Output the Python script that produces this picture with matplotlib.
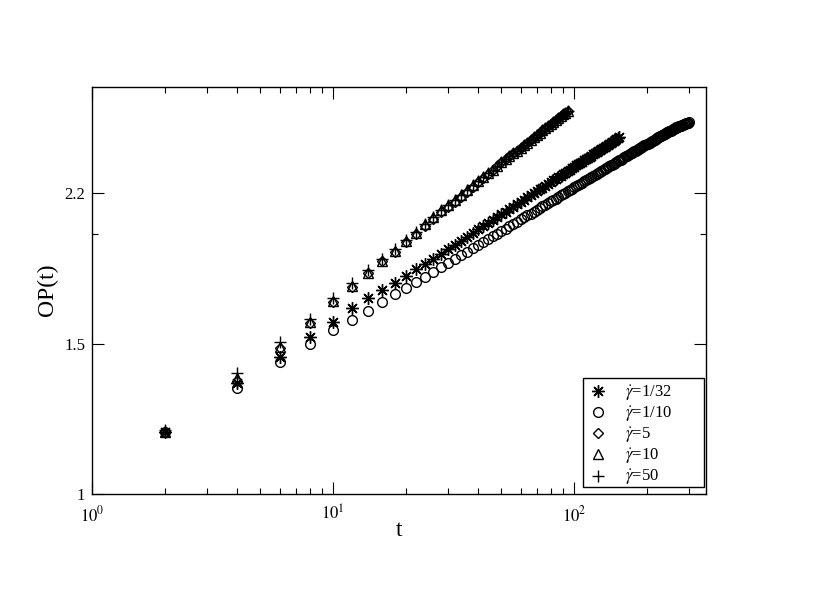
import numpy as np
import matplotlib
matplotlib.use("Agg")
import matplotlib.pyplot as plt
from matplotlib.ticker import FixedLocator, NullFormatter
from matplotlib.patches import Rectangle

plt.rcParams['font.family'] = ['Liberation Serif', 'DejaVu Serif']
plt.rcParams['mathtext.fontset'] = 'stix'

# ---- data ----
t_upper = list(range(2, 96, 2))      # gamma_dot = 5, 10, 50
t_g132 = list(range(2, 156, 2))      # gamma_dot = 1/32
t_g110 = list(range(2, 302, 2))      # gamma_dot = 1/10

op_g10 = [1.180, 1.361, 1.480, 1.580, 1.670, 1.740, 1.803, 1.861, 1.911, 1.960,
          2.006, 2.050, 2.091, 2.128, 2.160, 2.190, 2.218, 2.246, 2.274, 2.302,
          2.325, 2.348, 2.371, 2.394, 2.417, 2.437, 2.456, 2.476, 2.495, 2.515,
          2.532, 2.549, 2.567, 2.584, 2.601, 2.616, 2.632, 2.647, 2.663, 2.678,
          2.692, 2.705, 2.719, 2.733, 2.747, 2.761, 2.774]

op_g5 = [1.178, 1.352, 1.475, 1.576, 1.665, 1.736, 1.799, 1.857, 1.907, 1.955,
         2.000, 2.042, 2.082, 2.116, 2.146, 2.175, 2.203, 2.232, 2.262, 2.292,
         2.318, 2.344, 2.371, 2.394, 2.417, 2.437, 2.456, 2.476, 2.495, 2.515,
         2.532, 2.549, 2.567, 2.584, 2.601, 2.616, 2.632, 2.647, 2.663, 2.678,
         2.692, 2.705, 2.719, 2.733, 2.747, 2.761, 2.774]

op_g50 = [1.186, 1.380, 1.498, 1.592, 1.684, 1.755, 1.815, 1.870, 1.918, 1.964,
          2.009, 2.052, 2.092, 2.128, 2.160, 2.190, 2.218, 2.246, 2.274, 2.302,
          2.325, 2.348, 2.371, 2.394, 2.417, 2.437, 2.456, 2.476, 2.495, 2.515,
          2.532, 2.549, 2.567, 2.584, 2.601, 2.616, 2.632, 2.647, 2.663, 2.678,
          2.692, 2.705, 2.719, 2.733, 2.747, 2.761, 2.774]

op_g132 = [1.180, 1.344, 1.441, 1.518, 1.582, 1.640, 1.684, 1.723, 1.756, 1.788,
           1.819, 1.845, 1.870, 1.895, 1.919,
           1.940, 1.961, 1.981, 2.002, 2.023,
           2.040, 2.056, 2.073, 2.089, 2.106,
           2.120, 2.134, 2.149, 2.163, 2.177,
           2.189, 2.202, 2.214, 2.227, 2.239,
           2.250, 2.261, 2.272, 2.283, 2.294,
           2.304, 2.314, 2.324, 2.334, 2.344,
           2.353, 2.362, 2.372, 2.381, 2.390,
           2.398, 2.406, 2.415, 2.423, 2.431,
           2.439, 2.447, 2.454, 2.462, 2.470,
           2.477, 2.484, 2.492, 2.499, 2.506,
           2.513, 2.520, 2.526, 2.533, 2.540,
           2.547, 2.553, 2.560, 2.566, 2.573,
           2.579, 2.585]

op_g110 = [1.180, 1.327, 1.422, 1.491, 1.547, 1.589, 1.629, 1.666, 1.701, 1.730,
           1.757, 1.784, 1.808, 1.830, 1.851,
           1.869, 1.887, 1.906, 1.924, 1.942,
           1.957, 1.971, 1.986, 2.000, 2.015,
           2.027, 2.040, 2.052, 2.065, 2.077,
           2.088, 2.099, 2.109, 2.120, 2.131,
           2.141, 2.150, 2.160, 2.169, 2.179,
           2.188, 2.196, 2.205, 2.214, 2.223,
           2.231, 2.238, 2.246, 2.254, 2.262,
           2.269, 2.276, 2.284, 2.291, 2.298,
           2.305, 2.312, 2.318, 2.325, 2.332,
           2.338, 2.344, 2.351, 2.357, 2.363,
           2.369, 2.375, 2.380, 2.386, 2.392,
           2.398, 2.403, 2.409, 2.414, 2.420,
           2.425, 2.430, 2.436, 2.441, 2.446,
           2.451, 2.456, 2.461, 2.466, 2.471,
           2.476, 2.481, 2.485, 2.490, 2.495,
           2.499, 2.504, 2.508, 2.513, 2.517,
           2.521, 2.526, 2.530, 2.535, 2.539,
           2.541, 2.545, 2.549, 2.553, 2.557,
           2.561, 2.565, 2.569, 2.573, 2.577,
           2.581, 2.584, 2.588, 2.591, 2.595,
           2.599, 2.602, 2.606, 2.609, 2.613,
           2.614, 2.618, 2.621, 2.625, 2.628,
           2.631, 2.635, 2.638, 2.641, 2.644,
           2.647, 2.650, 2.653, 2.656, 2.659,
           2.661, 2.663, 2.665, 2.667, 2.669,
           2.671, 2.673, 2.676, 2.678, 2.680,
           2.682, 2.684, 2.686, 2.688, 2.690]

labels = [r'$\dot{\gamma}$=1/32', r'$\dot{\gamma}$=1/10', r'$\dot{\gamma}$=5',
          r'$\dot{\gamma}$=10', r'$\dot{\gamma}$=50']

x_ticks = [1, 10, 100]
x_ticklabels = [r'$10^{0}$', r'$10^{1}$', r'$10^{2}$']
y_ticks = [1.0, 1.4918, 2.2255]
y_ticklabels = ['1', '1.5', '2.2']

# ---- figure ----
W, H = 817, 599
fig = plt.figure(figsize=(W / 100, H / 100), dpi=100)
L, R, T, B = 92, 706, 87, 494
ax = fig.add_axes([L / W, 1 - B / H, (R - L) / W, (B - T) / H])

mew = 1.0
ax.plot(t_g132, op_g132, linestyle='none', marker=(8, 2, 0), markersize=9,
        color='black', markeredgewidth=mew, label=labels[0])
ax.plot(t_g110, op_g110, linestyle='none', marker='o', markersize=7,
        markerfacecolor='none', markeredgecolor='black', markeredgewidth=mew,
        label=labels[1])
ax.plot(t_upper, op_g5, linestyle='none', marker='D', markersize=5,
        markerfacecolor='none', markeredgecolor='black', markeredgewidth=mew,
        label=labels[2])
ax.plot(t_upper, op_g10, linestyle='none', marker='^', markersize=7,
        markerfacecolor='none', markeredgecolor='black', markeredgewidth=mew,
        label=labels[3])
ax.plot(t_upper, op_g50, linestyle='none', marker='+', markersize=9,
        color='black', markeredgewidth=mew, label=labels[4])

ax.set_xscale('log')
ax.set_yscale('log')
ax.set_xlim(1, 353)
ax.set_ylim(1.0, 2.955)

ax.xaxis.set_major_locator(FixedLocator(x_ticks))
ax.set_xticklabels(x_ticklabels)
ax.xaxis.set_minor_locator(FixedLocator([2, 3, 4, 5, 6, 7, 8, 9,
                                         20, 30, 40, 50, 60, 70, 80, 90, 200, 300]))
ax.xaxis.set_minor_formatter(NullFormatter())
ax.yaxis.set_major_locator(FixedLocator(y_ticks))
ax.set_yticklabels(y_ticklabels)
ax.yaxis.set_minor_locator(FixedLocator([2.0]))
ax.yaxis.set_minor_formatter(NullFormatter())

ax.tick_params(which='both', direction='in', top=True, right=True,
               width=0.8, labelsize=12, colors='black')
ax.tick_params(which='major', length=8.5, pad=5)
ax.tick_params(axis='x', which='major', pad=8)
ax.tick_params(which='minor', length=4.2)
for s in ax.spines.values():
    s.set_linewidth(1.0)
    s.set_color('black')

fig.text(47 / W, 1 - 290 / H, 'OP(t)', rotation=90, ha='center', va='center', fontsize=17)
fig.text(399 / W, 1 - 530 / H, 't', ha='center', va='center', fontsize=17)

# legend box (drawn separately so its size matches the reference)
box = Rectangle((583 / W, 1 - 487 / H), 121 / W, 109 / H, transform=fig.transFigure,
                facecolor='white', edgecolor='black', linewidth=1.0,
                clip_on=False, zorder=4)
ax.add_patch(box)
leg = ax.legend(loc='upper left',
                bbox_to_anchor=((583 - L) / (R - L), (B - 378) / (B - T)),
                frameon=False, fontsize=12,
                handlelength=1.2, handletextpad=1.0, labelspacing=0.08,
                borderpad=0.3, borderaxespad=0.0, numpoints=1)
leg.set_zorder(5)

fig.savefig('out.png', dpi=100)
